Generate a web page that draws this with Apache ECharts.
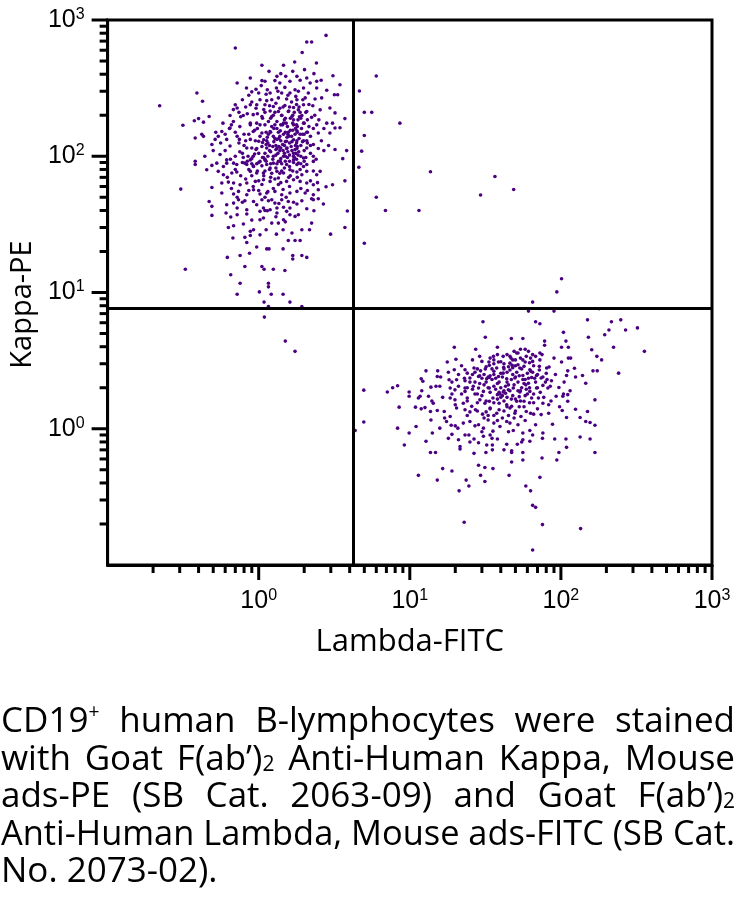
<!DOCTYPE html>
<html><head><meta charset="utf-8">
<script src="https://cdn.jsdelivr.net/npm/echarts@6/dist/echarts.min.js"></script>
<style>
html,body{margin:0;padding:0;background:#fff;}
#chart{position:absolute;left:0;top:0;width:743px;height:904px;}
#caption{position:absolute;left:1px;top:700px;width:734px;font-family:"Open Sans",sans-serif;font-size:35px;line-height:37.5px;color:#000;}
.ln{white-space:nowrap;height:37.5px;}
.ln span{display:inline-block;transform-origin:0 0;}
.sup{font-size:0.55em;position:relative;top:-0.75em;}
.sub{font-size:0.6em;position:relative;top:0.05em;}
</style></head>
<body>
<div id="chart"></div>
<div id="caption"></div>
<script>
// ---------- data ----------
const X_MIN = 0.1, X_MAX = 1000, Y_MIN = 0.1, Y_MAX = 1000;
const quadrantX = 4.25;   // Lambda-FITC gate
const quadrantY = 7.7;    // Kappa-PE gate
const majorTicks = [1, 10, 100, 1000];
const minorTicks = [0.2,0.3,0.4,0.5,0.6,0.7,0.8,0.9,2,3,4,5,6,7,8,9,20,30,40,50,60,70,80,90,200,300,400,500,600,700,800,900];
const xTitle = 'Lambda-FITC';
const yTitle = 'Kappa-PE';
const captionLines = [
  'CD19<span class="sup">+</span> human B-lymphocytes were stained',
  'with Goat F(ab\u2019)<span class="sub">2</span> Anti-Human Kappa, Mouse',
  'ads-PE (SB Cat. 2063-09) and Goat F(ab\u2019)<span class="sub">2</span>',
  'Anti-Human Lambda, Mouse ads-FITC (SB Cat.',
  'No. 2073-02).'
];

// Kappa+ (upper-left) population [Lambda-FITC, Kappa-PE]
const kappaPoints = [
[2.79,771],[2.08,690],[2.24,690],[0.70,623],[1.94,578],[1.73,492],[2.41,483],[1.05,465],[1.46,465],[1.17,420],[1.40,404],[1.68,420],[2.01,432],[0.88,375],[1.32,386],[1.51,386],[1.79,386],[2.08,375],[2.32,404],[3.1,390],[0.72,345],[1.05,359],[1.10,355],[1.28,359],[1.38,345],[1.61,355],[1.88,361],[2.19,345],[2.42,355],[2.59,361],[0.83,317],[1.14,308],[1.31,317],[1.49,320],[1.74,308],[1.98,317],[2.42,317],[2.82,305],[3.45,335],[0.39,291],[0.90,297],[1.0,291],[1.19,291],[1.42,291],[1.61,291],[1.83,300],[2.13,291],[3.17,283],[3.33,283],[0.425,253],[1.02,260],[1.13,256],[1.35,268],[1.53,263],[1.79,260],[2.03,268],[2.36,263],[2.61,268],[0.221,235],[0.70,239],[0.72,226],[0.88,239],[0.97,239],[1.10,239],[1.25,232],[1.49,236],[1.70,228],[1.98,239],[2.28,235],[1.19,215],[1.35,213],[1.57,213],[1.83,219],[2.08,213],[2.55,219],[2.96,226],[0.646,199],[0.79,199],[0.92,202],[1.05,196],[1.22,196],[1.42,199],[1.66,196],[1.93,199],[2.24,193],[3.2,208],[3.72,189],[0.47,196],[0.40,189],[0.375,182],[0.315,169],[0.431,178],[0.66,170],[0.75,165],[0.88,175],[0.97,175],[1.10,170],[1.28,170],[1.46,175],[1.70,170],[1.98,175],[2.42,170],[2.82,175],[3.08,175],[3.45,162],[3.2,161],[0.57,152],[0.646,161],[0.70,150],[0.80,145],[0.92,152],[1.05,148],[1.19,152],[1.39,154],[1.57,150],[1.79,154],[2.08,150],[2.48,148],[2.96,148],[0.38,136],[0.42,145],[0.431,140],[0.54,140],[0.49,122],[0.614,133],[0.745,133],[0.88,133],[1.0,129],[1.13,130],[1.32,133],[1.53,129],[1.79,130],[2.08,130],[2.30,122],[0.515,133],[0.555,103],[0.646,119],[0.834,115],[0.97,114],[1.13,115],[1.32,114],[1.53,114],[1.79,114],[2.08,115],[2.48,114],[3.2,112],[3.82,110],[0.44,100],[0.70,100],[0.79,98],[0.92,100],[1.075,98],[1.25,100],[1.46,100],[1.70,100],[1.98,97],[3.6,96],[0.38,92],[0.38,87],[0.528,89],[0.614,89],[0.716,87],[0.834,87],[0.97,88],[1.13,87],[1.32,88],[1.53,87],[1.79,87],[2.08,87],
[0.49,85.7],[0.453,79.7],[0.584,84],[0.614,94],[0.682,89],[0.81,89],[0.88,94],[0.924,84],[1.02,91.7],[1.10,94],[1.25,89],[1.39,91.7],[1.70,94],[1.83,89],[1.98,84],[2.30,91.7],[2.55,77.5],[0.54,77.5],[0.584,73.2],[0.664,75.3],[0.716,76.6],[0.88,77.5],[0.97,75.3],[1.075,75.3],[1.19,82],[1.32,77.5],[1.46,75.3],[1.61,79.7],[1.79,76.6],[1.93,73.2],[2.08,77.5],[2.42,73.2],[3.72,66],[3.08,61.8],[2.79,59.7],[2.48,56.8],[2.30,61.8],[2.08,63.6],[1.88,65.4],[1.70,67.3],[1.53,65.4],[1.35,69.2],[1.19,65.4],[1.075,67.3],[0.95,65.4],[0.834,63.6],[0.753,61.8],[0.682,63.6],[0.63,64.6],[0.57,63.6],[0.49,59],[0.305,57.4],
[0.57,53.7],[0.682,52.8],[0.735,55.2],[0.834,52.2],[0.924,56.8],[1.02,52.8],[1.13,53.7],[1.28,55.2],[1.42,52.2],[1.61,53.7],[1.79,55.2],[2.03,53.7],[2.30,52.2],[2.48,48.7],[2.24,48.7],[1.93,47.1],[1.79,44.6],[1.57,46.6],[1.42,48],[1.28,45.3],[1.16,47.1],[1.05,48],[0.924,46.6],[0.81,47.1],[0.735,48],[0.682,45.3],[0.614,44.1],[0.47,46.6],[0.49,42.9],[2.68,44.6],[2.08,41.2],[2.32,39.8],[1.61,41.7],[1.46,42.2],[1.32,41.7],[1.19,40.5],[1.075,41.7],[0.97,44.1],[0.834,40.5],[0.72,41.7],
[0.49,36.8],[0.608,38.3],[0.653,35.8],[0.72,37.2],[0.834,37.7],[1.02,39.4],[1.14,39.8],[1.32,38.3],[1.53,39.4],[1.61,37.2],[1.83,37.2],[1.02,34.2],[1.075,35.2],[1.22,32.3],[1.35,32.3],[1.46,34.2],[1.74,36.2],[2.24,32.3],[3.86,39.6],[0.63,30],[0.682,30.9],[0.792,31.8],[0.88,28.1],[0.924,28.9],[1.02,26.5],[1.12,28.9],[1.31,26.8],[1.45,28.9],[1.66,27.3],[1.93,28.9],[2.17,28.9],[3.72,30],[2.99,26.8],[0.675,25.1],[0.81,25.4],[0.88,26.2],[1.57,24.1],[1.74,24.1],[1.88,24.1],
[0.834,23.3],[0.97,21.6],[1.13,20.9],[1.17,20.9],[1.45,20.9],[0.62,18.1],[0.753,18.7],[0.87,19.4],[1.68,18.7],[1.68,17.6],[1.93,18.7],[2.08,18.1],[0.81,15.5],[1.05,15.5],[1.085,14.8],[1.25,14.8],[1.49,14.5],[0.327,14.8],[0.653,13.5],[1.16,11.7],[1.16,11],[0.753,11.7],[1.01,10.1],[1.21,9.7],[1.45,9.7],[0.72,9.7],[1.085,8.5],[1.61,8.5],
[1.09,6.6],[1.5,4.4],[1.74,3.7],[1.16,7.9],[1.93,7.9],
[1.0,105],[1.05,118],[1.1,95],[1.15,125],[1.2,108],[1.25,140],[1.3,120],[1.35,92],[1.4,130],[1.45,110],[1.5,150],[1.55,98],[1.6,125],[1.65,140],[1.7,105],[1.75,160],[1.8,118],[1.85,135],[1.9,100],[1.95,145],
[0.95,130],[0.9,115],[0.85,100],[0.92,85],[0.98,78],[1.08,72],[1.18,80],[1.28,68],[1.38,75],[1.48,82],[1.58,70],[1.68,78],[1.78,95],[1.88,80],[2.0,110],[2.1,125],[2.2,140],[2.05,98],[2.15,165],[1.12,150],
[1.22,165],[1.32,180],[1.42,200],[1.52,175],[1.62,190],[1.72,210],[1.82,185],[1.02,170],[0.94,155],[0.86,145],[0.8,120],[0.75,108],[0.78,90],[0.72,140],[1.25,58],[1.35,62],[1.15,55],[1.05,62],[1.45,57],[1.6,60],
[1.1,105],[1.3,112],[1.5,128],[1.7,132],[1.9,120],[1.2,88],[1.4,96],[1.6,102],[1.8,150],[2.0,175],[1.0,90],[1.15,100],[1.35,150],[1.55,165],[1.75,120],[1.25,200],[1.45,230],[1.65,250],[1.85,230],[2.05,210],
[1.05,85],[1.12,92],[1.18,110],[1.24,95],[1.3,102],[1.36,118],[1.42,88],[1.48,105],[1.54,115],[1.6,92],[1.66,110],[1.72,98],[1.78,125],[1.84,108],[1.95,128],[0.96,112],[0.9,96],[1.02,140],[1.08,132],[1.14,138],
[1.2,150],[1.26,128],[1.32,160],[1.38,140],[1.44,170],[1.5,190],[1.56,145],[1.62,155],[1.68,175],[1.74,145],[1.8,165],[1.86,195],[1.92,160],[2.0,145],[2.1,150],[1.16,180],[1.06,190],[0.98,160],[0.88,170],[0.82,130],
[1.1,78],[1.2,70],[1.3,82],[1.4,64],[1.5,92],[1.6,84],[1.7,90],[1.8,70],[1.9,88],[2.0,92],[0.9,72],[1.0,66],[0.86,80],[0.94,104],[1.24,118],[1.34,105],[1.44,122],[1.54,138],[1.64,118],[1.74,112],
[1.28,210],[1.38,225],[1.48,185],[1.58,215],[1.68,200],[1.78,240],[1.88,210],[1.18,235],[1.08,220],[0.98,205],[1.22,75],[1.42,78],[1.62,72],[1.82,102],[2.2,120],[2.3,100],[0.84,92],[0.78,105],[0.74,125],[1.12,122],
[1.36,135],[1.46,145],[1.56,108],[1.66,128],[1.76,105],[1.26,160],[1.16,145],[1.06,126],[1.4,115],[1.5,100],
[0.6,110],[0.65,95],[0.68,180],[0.74,210],[0.78,260],[0.82,230],[0.86,280],[0.9,250],[0.96,310],[1.04,330],[1.12,285],[1.22,260],[1.34,300],[1.56,280],[1.76,275],[1.96,260],[2.15,240],[2.35,200],[2.5,185],[2.7,160],
[2.6,130],[2.4,95],[2.3,78],[2.2,66],[2.45,64],[2.7,110],[2.9,120],[0.62,70],[0.66,58],[0.72,50],[0.78,46],[0.86,56],[0.92,60],[1.0,56],[1.1,50],[1.22,48],[1.36,45],[1.52,50],[1.7,46],[1.9,58],
[2.1,56],[2.3,48],[0.56,125],[0.6,145],[0.64,160],[0.5,110],[0.52,150],[0.58,175],[0.68,220],[0.76,195],[0.84,205],[0.96,225],[1.1,210],[1.2,190],[1.3,245],[1.4,170],[1.6,230],[1.7,185],[1.9,190],[2.1,185],
[2.3,160],[2.2,105],[0.7,80],[0.76,72],[0.82,68],[0.9,88],[1.06,98],[1.18,120],[1.28,135],[1.38,110],[1.48,120],[1.58,140],[1.68,155],[1.78,170],[1.88,145],[1.98,130],[1.1,40],[1.3,36],[1.5,33],[0.9,34]
];

// Lambda+ (lower-right) population [Lambda-FITC, Kappa-PE]
const lambdaPoints = [
[30.5,6.1],[68,6.1],[72.6,5.9],[150,6.3],[216,6.1],[249,6.3],[208,5.3],[268,5.3],[321,5.5],[357,3.7],[195,4.9],[104,5.1],[31.6,4.7],[47,4.6],[56,4.6],[78,4.4],[78,4.1],[108,4.4],[152,4.7],[19.7,3.96],[27.3,3.83],[38,3.96],[49,3.7],[54,3.83],[58,3.83],[101,3.96],[112,3.96],[160,3.8],[223,3.96],[51,3.6],[61,3.7],[65,3.5],[72.6,3.6],
[20.2,3.24],[17.7,3.09],[35.8,3.4],[41.5,3.4],[36,3.2],[46.7,3.3],[50,3.2],[54,3.3],[63,3.3],[72.6,3.2],[75,3.5],[90,3.3],[101,3.09],[112,3.3],[116,3.3],[173,3.4],[186,3.2],[30,3.12],[33.4,3.09],[38.6,3.09],[46,3.03],[58,3.09],[65,3.12],
[12.8,2.66],[15.3,2.66],[19.7,2.71],[23.2,2.71],[26.6,2.79],[29.4,2.66],[31.6,2.75],[33.6,2.92],[37.6,2.79],[41.8,2.82],[47.6,2.92],[53.5,2.79],[57,2.87],[62.3,2.71],[72,2.87],[80.5,2.79],[83.5,2.84],[111,2.66],[123,2.78],[163,2.66],[174,2.66],[24,2.56],[36,2.64],[41.5,2.56],
[11.9,2.33],[12.2,2.23],[15.2,2.42],[18.2,2.29],[20.4,2.29],[23.2,2.25],[25,2.36],[27,2.2],[28.5,2.42],[32.3,2.33],[33.6,2.38],[38.6,2.42],[43.8,2.33],[49.6,2.36],[56,2.46],[64,2.38],[69,2.46],[74,2.36],[79,2.2],[86.6,2.25],[109,2.46],[139,2.46],[241,2.56],[146,2.16],[61,2.16],
[4.96,1.92],[7.1,1.86],[7.7,2.0],[8.3,2.07],[9.9,1.86],[11.7,1.73],[13.8,2.02],[14.9,2.05],[15.8,2.05],[18.5,1.99],[19.9,1.93],[23.2,1.99],[23.2,1.88],[26.3,2.05],[28.5,1.99],[30.7,1.88],[33.6,1.99],[36,2.05],[39.5,1.8],[41.5,1.86],[44.9,1.93],[48.4,1.99],[53.5,1.86],[58.6,2.1],[62.3,1.88],[69,1.99],[76,2.08],[82,1.99],[97,2.01],[104,1.8],[111,1.78],[168,1.63],
[9.9,1.73],[11.4,1.68],[13.3,1.73],[14.3,1.54],[16.5,1.7],[18.5,1.68],[19.9,1.63],[22.6,1.54],[24,1.68],[25.7,1.46],[29.1,1.63],[31.4,1.54],[33.6,1.59],[35.5,1.68],[39,1.54],[43.8,1.5],[47.2,1.46],[51,1.59],[57,1.59],[64,1.68],[71,1.68],[76,1.54],[83,1.5],[93,1.73],[103,1.73],[111,1.59],
[8.5,1.44],[10.9,1.44],[11.9,1.4],[12.6,1.43],[13.7,1.34],[15.2,1.36],[16.9,1.34],[18.5,1.23],[20.4,1.42],[23.2,1.38],[25,1.33],[27.2,1.38],[30.3,1.28],[32,1.33],[34,1.42],[37.6,1.3],[41,1.2],[46,1.42],[49.6,1.3],[54.4,1.23],[59,1.34],[66,1.28],[74,1.27],[83,1.3],[102,1.36],[125,1.39],[134,1.21],[150,1.34],[109,1.21],
[4.96,1.12],[8.3,1.01],[11,1.04],[13.8,1.16],[15.8,1.01],[17.5,1.13],[18.8,1.06],[20.8,1.01],[22.6,1.1],[25,1.13],[28.5,1.07],[30.7,1.01],[33,1.16],[35.5,0.96],[39.5,1.04],[43.8,1.13],[48.4,0.97],[52,1.07],[56,0.93],[62.3,0.97],[68,1.07],[76,0.93],[88,1.08],[146,1.13],[156,1.11],[168,1.06],
[9.9,0.93],[12.8,0.81],[14.1,0.93],[19,0.91],[21,0.83],[21.5,0.74],[23.2,0.9],[24.6,0.9],[26.6,0.84],[28.5,0.79],[30.7,0.88],[32.3,0.76],[35.2,0.76],[38,0.84],[43.8,0.77],[47.2,0.69],[51.5,0.77],[56,0.83],[62.3,0.81],[75.5,0.85],[91,0.84],[108,0.84],[134,0.87],[156,0.84],[9.2,0.76],
[13.7,0.67],[14.8,0.67],[21.5,0.71],[26.6,0.66],[31.9,0.67],[35.2,0.7],[42,0.7],[47.2,0.67],[56,0.67],[75,0.61],[97,0.67],[109,0.73],[168,0.67],[94,0.59],[56,0.59],
[16.5,0.51],[19,0.49],[28.5,0.54],[31.4,0.52],[35.5,0.51],[47.2,0.57],[11.4,0.455],
[15.2,0.42],[23.6,0.42],[24.6,0.38],[21.2,0.35],[29.4,0.455],[31.4,0.41],[45.4,0.455],[58.6,0.38],[63,0.35],[72.6,0.44],
[65,0.274],[68,0.265],[22.9,0.206],[75.5,0.198],[135,0.185],[65,0.129],
[4.35,0.97],[61,7.3],[90,7.3],[179,7.6],
[31,2.5],[33,2.4],[35,2.3],[32,2.2],[34,2.45],[30,2.35],[36,2.5],[39,1.85],[41,1.75],[42,1.9],[38,1.78],[40,1.7],[43,1.82],[37,1.95],[44,2.6],[46,2.7],[48,2.5],[50,2.4],[52,2.2],[45,2.1],[55,2.0],[58,2.3],[60,2.55],[62,2.0],[27,1.8],[29,2.15],[26,2.5],[28,1.55],[34,1.4],[38,2.15],[47,1.65],[53,1.72],[57,1.45],[65,2.6],[68,2.2],[24,2.0],[22,1.8],[36,3.0],[40,3.1],[52,2.95],[44,3.5],[48,3.2],[59,3.4],[66,2.9],[70,2.5],[21,2.5],[19,2.2],[31,1.2],[36,1.1],[45,1.25],
[25,2.2],[27,2.6],[29,2.45],[31,2.1],[33,2.0],[35,2.75],[37,2.35],[39,2.2],[41,2.4],[43,2.05],[45,2.85],[47,2.3],[49,2.1],[51,2.6],[53,2.45],[55,2.75],[57,2.15],[59,1.95],[61,2.35],[63,2.65],
[30,1.75],[32,1.6],[34,1.85],[36,1.55],[38,1.65],[40,2.0],[42,1.6],[44,1.45],[46,1.9],[48,1.75],[50,1.65],[54,1.9],[58,1.75],[62,1.55],[66,1.8],[70,2.0],[72,2.7],[76,2.4],[80,2.55],[85,2.05],
[23,2.35],[21,2.05],[26,1.95],[28,2.75],[34,3.3],[38,3.5],[42,3.0],[46,3.4],[50,2.9],[56,3.2],[62,3.05],[68,3.4],[28,1.35],[33,1.25],[39,1.38],[44,1.7],[49,1.2],[53,1.45],[24,1.6],[19,1.8],
[12,1.9],[14,1.6],[16,2.4],[17,1.2],[18,2.6],[20,1.5],[22,2.9],[24,1.25],[26,3.2],[27,1.05],[29,3.4],[30,0.95],[32,2.85],[34,0.9],[36,1.25],[38,1.15],[40,2.55],[42,1.35],[44,2.2],[46,1.1],
[48,2.8],[50,1.35],[52,1.9],[54,1.6],[56,2.3],[58,1.15],[60,1.8],[63,1.3],[66,1.55],[70,1.4],[73,1.85],[77,1.7],[81,2.3],[86,1.6],[92,2.5],[98,1.45],[105,2.2],[115,1.9],[125,2.4],[20,1.05],
[25,0.8],[35,0.85],[45,0.95],[55,0.8],[65,0.9],[18,0.85],[28,1.8],[42,2.75],[52,3.6],[67,2.35]
];

// events in the upper-right quadrant and along the gates
const doublePoints = [
[6.0,388],[4.64,301],[5.0,210],[5.6,210],[8.6,175],[5.0,142],[4.8,109],[4.6,83],[13.7,77],[36.6,71],[48.7,57],[29.4,52],[6.0,50],[6.9,40],[11.5,40],[5.0,23],[101,12.6],[94,10.1],[65,8.5]
];

// ---------- chart ----------
const chart = echarts.init(document.getElementById('chart'), null, {renderer: 'canvas'});
const DOT = '#4b0082';
const LINE_W = 3;

function supLabel(v) {
  const e = Math.round(Math.log10(v));
  if (e < 0) return '';
  return '{b|10}{s|' + e + '}';
}
const richLabel = {
  b: {fontSize: 25, fontFamily: 'Liberation Sans', color: '#000', lineHeight: 27},
  s: {fontSize: 16, fontFamily: 'Liberation Sans', color: '#000', lineHeight: 16, padding: [0, 0, 11, 0]}
};

function tickSeries(values, len, isX) {
  return {
    type: 'custom', silent: true, clip: false, z: 10,
    data: values.map(v => isX ? [v, Y_MIN] : [X_MIN, v]),
    renderItem: function (params, api) {
      const p = api.coord([api.value(0), api.value(1)]);
      const shape = isX ? {x1: p[0], y1: p[1], x2: p[0], y2: p[1] + len}
                        : {x1: p[0], y1: p[1], x2: p[0] - len, y2: p[1]};
      return {type: 'line', shape: shape, style: {stroke: '#000', lineWidth: LINE_W}};
    }
  };
}

const scatterStyle = {symbol: 'circle', symbolSize: 3.6, itemStyle: {color: DOT, opacity: 1}, silent: true};

chart.setOption({
  animation: false,
  backgroundColor: '#fff',
  grid: {left: 107, top: 20, width: 605, height: 545, show: true, borderColor: '#000', borderWidth: LINE_W, backgroundColor: 'transparent'},
  xAxis: {
    type: 'log', logBase: 10, min: X_MIN, max: X_MAX,
    name: xTitle, nameLocation: 'middle', nameGap: 62,
    nameTextStyle: {fontFamily: 'Open Sans', fontSize: 31, color: '#000'},
    axisLine: {show: true, lineStyle: {color: '#000', width: LINE_W}},
    axisTick: {show: false}, splitLine: {show: false},
    axisLabel: {formatter: supLabel, rich: richLabel, margin: 23}
  },
  yAxis: {
    type: 'log', logBase: 10, min: Y_MIN, max: Y_MAX,
    name: yTitle, nameLocation: 'middle', nameGap: 70,
    nameTextStyle: {fontFamily: 'Open Sans', fontSize: 29, color: '#000', padding: [0, 24, 0, 0]},
    axisLine: {show: true, lineStyle: {color: '#000', width: LINE_W}},
    axisTick: {show: false}, splitLine: {show: false},
    axisLabel: {formatter: supLabel, rich: richLabel, margin: 23}
  },
  series: [
    Object.assign({type: 'scatter', data: kappaPoints,
      markLine: {silent: true, symbol: 'none', label: {show: false},
        lineStyle: {color: '#000', width: LINE_W, type: 'solid'},
        data: [{xAxis: quadrantX}, {yAxis: quadrantY}]}}, scatterStyle),
    Object.assign({type: 'scatter', data: lambdaPoints}, scatterStyle),
    Object.assign({type: 'scatter', data: doublePoints}, scatterStyle),
    tickSeries(majorTicks, 15, true),
    tickSeries(minorTicks, 8, true),
    tickSeries(majorTicks, 16, false),
    tickSeries(minorTicks, 8, false)
  ]
});

// ---------- caption ----------
const cap = document.getElementById('caption');
captionLines.forEach(function (t, i) {
  const d = document.createElement('div');
  d.className = 'ln' + (i < captionLines.length - 1 ? ' j' : '');
  d.innerHTML = '<span>' + t + '</span>';
  cap.appendChild(d);
});
function fitCaption() {
  const W = 734;
  cap.querySelectorAll('.ln.j span').forEach(function (s) {
    s.style.wordSpacing = '0px'; s.style.transform = '';
    const w = s.getBoundingClientRect().width;
    const spaces = (s.textContent.match(/ /g) || []).length;
    if (w > W) s.style.transform = 'scaleX(' + (W / w) + ')';
    else if (spaces) s.style.wordSpacing = ((W - w) / spaces) + 'px';
  });
}
fitCaption();
if (document.fonts && document.fonts.ready) document.fonts.ready.then(fitCaption);
</script>
</body></html>
